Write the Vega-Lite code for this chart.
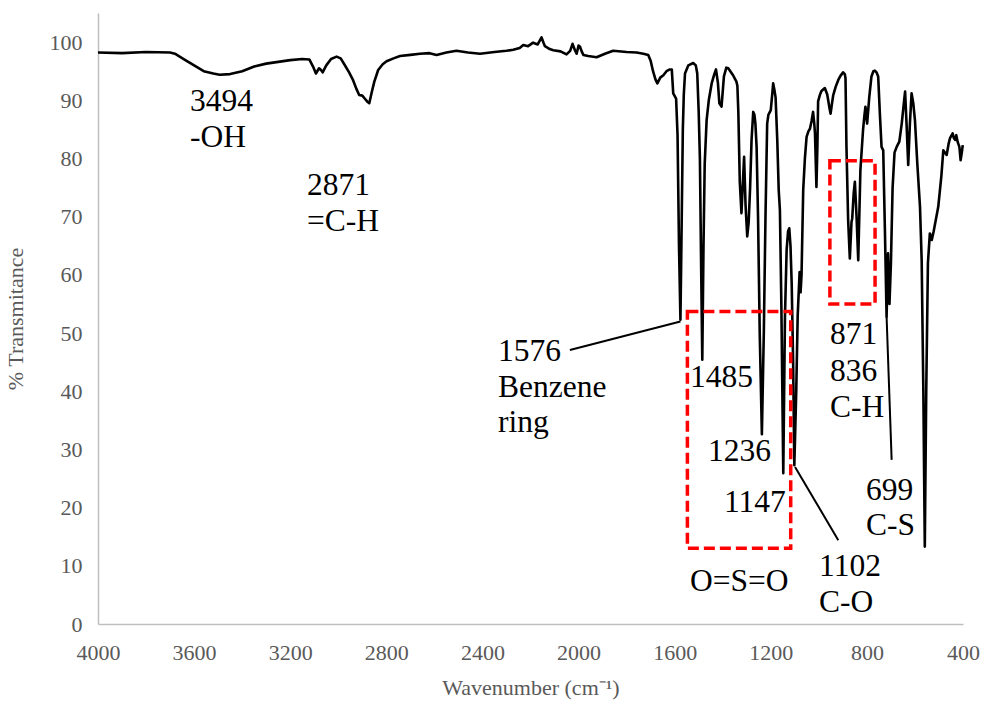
{
  "$schema": "https://vega.github.io/schema/vega-lite/v6.json",
  "width": 865,
  "height": 611,
  "autosize": {"type": "none"},
  "padding": {"left": 98, "top": 13, "right": 21, "bottom": 77},
  "background": "white",
  "config": {"view": {"stroke": null}},
  "datasets": {
    "spectrum": [
      {"wn":4000,"t":98.2},{"wn":3900,"t":98.1},{"wn":3800,"t":98.3},{"wn":3700,"t":98.2},{"wn":3680,"t":98.0},
      {"wn":3640,"t":97.0},{"wn":3600,"t":96.0},{"wn":3560,"t":95.0},{"wn":3520,"t":94.6},{"wn":3494,"t":94.4},
      {"wn":3450,"t":94.5},{"wn":3400,"t":95.0},{"wn":3350,"t":95.8},{"wn":3300,"t":96.3},{"wn":3250,"t":96.6},
      {"wn":3200,"t":96.9},{"wn":3150,"t":97.1},{"wn":3120,"t":97.0},{"wn":3105,"t":95.8},{"wn":3093,"t":94.6},
      {"wn":3080,"t":95.5},{"wn":3072,"t":95.2},{"wn":3065,"t":94.8},{"wn":3050,"t":96.0},{"wn":3030,"t":97.1},
      {"wn":3007,"t":97.5},{"wn":2990,"t":97.2},{"wn":2975,"t":96.2},{"wn":2955,"t":94.8},{"wn":2940,"t":93.6},
      {"wn":2925,"t":92.0},{"wn":2913,"t":90.9},{"wn":2900,"t":90.8},{"wn":2890,"t":90.3},{"wn":2880,"t":89.8},
      {"wn":2871,"t":89.5},{"wn":2860,"t":91.5},{"wn":2850,"t":93.2},{"wn":2834,"t":95.2},{"wn":2815,"t":96.2},
      {"wn":2799,"t":96.7},{"wn":2770,"t":97.2},{"wn":2743,"t":97.6},{"wn":2700,"t":97.8},{"wn":2660,"t":98.0},
      {"wn":2620,"t":98.1},{"wn":2591,"t":97.8},{"wn":2550,"t":98.2},{"wn":2508,"t":98.5},{"wn":2460,"t":98.2},
      {"wn":2410,"t":98.0},{"wn":2350,"t":98.3},{"wn":2300,"t":98.5},{"wn":2272,"t":98.7},{"wn":2245,"t":99.0},
      {"wn":2230,"t":99.5},{"wn":2210,"t":99.3},{"wn":2189,"t":99.9},{"wn":2170,"t":99.6},{"wn":2154,"t":100.8},
      {"wn":2145,"t":99.8},{"wn":2140,"t":99.3},{"wn":2120,"t":98.8},{"wn":2105,"t":98.6},{"wn":2075,"t":98.4},
      {"wn":2050,"t":97.9},{"wn":2035,"t":98.5},{"wn":2025,"t":99.7},{"wn":2015,"t":98.6},{"wn":2008,"t":98.0},
      {"wn":2000,"t":99.4},{"wn":1994,"t":99.2},{"wn":1987,"t":98.4},{"wn":1980,"t":97.8},{"wn":1960,"t":97.6},
      {"wn":1925,"t":97.4},{"wn":1890,"t":98.0},{"wn":1856,"t":98.5},{"wn":1800,"t":98.3},{"wn":1759,"t":98.2},
      {"wn":1730,"t":98.0},{"wn":1710,"t":97.8},{"wn":1700,"t":96.8},{"wn":1690,"t":95.0},{"wn":1680,"t":93.6},
      {"wn":1672,"t":92.9},{"wn":1660,"t":93.9},{"wn":1647,"t":94.3},{"wn":1634,"t":95.0},{"wn":1620,"t":95.3},
      {"wn":1612,"t":95.3},{"wn":1606,"t":91.2},{"wn":1594,"t":90.3},{"wn":1588,"t":84},{"wn":1582,"t":65},
      {"wn":1576,"t":52.3},{"wn":1572,"t":65},{"wn":1566,"t":85},{"wn":1562,"t":91},{"wn":1557,"t":94.6},
      {"wn":1543,"t":96.0},{"wn":1523,"t":96.4},{"wn":1512,"t":96.0},{"wn":1506,"t":94.6},{"wn":1500,"t":88},
      {"wn":1495,"t":80},{"wn":1490,"t":62},{"wn":1485,"t":45.4},{"wn":1480,"t":65},{"wn":1475,"t":79},
      {"wn":1467,"t":86.6},{"wn":1458,"t":90},{"wn":1446,"t":92.9},{"wn":1435,"t":94.5},{"wn":1428,"t":95.3},
      {"wn":1420,"t":93},{"wn":1414,"t":89.5},{"wn":1405,"t":88.9},{"wn":1399,"t":92},{"wn":1395,"t":94.1},
      {"wn":1385,"t":95.6},{"wn":1377,"t":95.5},{"wn":1357,"t":94.3},{"wn":1343,"t":93.2},{"wn":1339,"t":92.5},
      {"wn":1335,"t":88},{"wn":1329,"t":76},{"wn":1322,"t":70.6},{"wn":1316,"t":76},{"wn":1311,"t":80.3},
      {"wn":1305,"t":72},{"wn":1298,"t":66.6},{"wn":1292,"t":69},{"wn":1286,"t":75},{"wn":1280,"t":83.2},
      {"wn":1273,"t":88},{"wn":1268,"t":87.5},{"wn":1264,"t":86},{"wn":1259,"t":82},{"wn":1253,"t":70},
      {"wn":1246,"t":50},{"wn":1237,"t":32.6},{"wn":1229,"t":50},{"wn":1222,"t":70},{"wn":1215,"t":86},
      {"wn":1210,"t":87.5},{"wn":1200,"t":88.3},{"wn":1193,"t":91.5},{"wn":1190,"t":92.9},{"wn":1185,"t":91.8},
      {"wn":1180,"t":90.5},{"wn":1173,"t":83.2},{"wn":1167,"t":74.6},{"wn":1162,"t":71.1},{"wn":1156,"t":55},
      {"wn":1148,"t":25.9},{"wn":1141,"t":52.8},{"wn":1134,"t":64.3},{"wn":1128,"t":67.5},{"wn":1123,"t":68.0},
      {"wn":1118,"t":65},{"wn":1113,"t":58.6},{"wn":1107,"t":45},{"wn":1102,"t":27.3},{"wn":1094,"t":40},
      {"wn":1088,"t":53},{"wn":1080,"t":60.5},{"wn":1076,"t":57},{"wn":1072,"t":60},{"wn":1065,"t":74.6},
      {"wn":1058,"t":80},{"wn":1051,"t":83.7},{"wn":1043,"t":84.7},{"wn":1037,"t":85.1},{"wn":1030,"t":86.5},
      {"wn":1024,"t":88.0},{"wn":1019,"t":86},{"wn":1016,"t":84.3},{"wn":1010,"t":75.1},{"wn":1006,"t":82},
      {"wn":1003,"t":89.8},{"wn":995,"t":91},{"wn":989,"t":91.6},{"wn":975,"t":92.1},{"wn":965,"t":91.0},
      {"wn":961,"t":90.0},{"wn":955,"t":88.5},{"wn":951,"t":87.7},{"wn":945,"t":89.5},{"wn":940,"t":90.9},
      {"wn":930,"t":92.3},{"wn":919,"t":93.5},{"wn":910,"t":94.2},{"wn":899,"t":94.8},{"wn":892,"t":94.5},
      {"wn":889,"t":93.8},{"wn":885,"t":82.0},{"wn":878,"t":69.4},{"wn":871,"t":62.8},{"wn":864,"t":69.1},
      {"wn":861,"t":69.7},{"wn":855,"t":74},{"wn":850,"t":76.0},{"wn":843,"t":70.0},{"wn":836,"t":62.5},
      {"wn":827,"t":78.0},{"wn":816,"t":84.9},{"wn":810,"t":87.5},{"wn":806,"t":88.9},{"wn":799,"t":86.0},
      {"wn":790,"t":90.6},{"wn":781,"t":94.1},{"wn":773,"t":95.0},{"wn":767,"t":95.1},{"wn":760,"t":94.8},
      {"wn":753,"t":94.1},{"wn":746,"t":87.7},{"wn":739,"t":82.0},{"wn":732,"t":81.4},{"wn":725,"t":67.7},
      {"wn":718,"t":52.8},{"wn":712,"t":63.7},{"wn":706,"t":55},{"wn":700,"t":62},{"wn":693,"t":75},
      {"wn":685,"t":81},{"wn":676,"t":82.0},{"wn":665,"t":82.9},{"wn":655,"t":86.0},{"wn":645,"t":90},
      {"wn":641,"t":91.5},{"wn":635,"t":86},{"wn":628,"t":78.9},{"wn":621,"t":86},{"wn":614,"t":91.2},
      {"wn":607,"t":89.5},{"wn":600,"t":86.6},{"wn":590,"t":79},{"wn":579,"t":71.7},{"wn":572,"t":62.5},
      {"wn":565,"t":40},{"wn":559,"t":13.3},{"wn":553,"t":40},{"wn":546,"t":62},{"wn":538,"t":67.1},
      {"wn":533,"t":66.5},{"wn":530,"t":66.0},{"wn":522,"t":67.5},{"wn":503,"t":71.7},{"wn":490,"t":77},
      {"wn":482,"t":81.4},{"wn":475,"t":81},{"wn":468,"t":80.6},{"wn":460,"t":82.5},{"wn":454,"t":83.5},
      {"wn":443,"t":84.3},{"wn":438,"t":83.5},{"wn":433,"t":83.2},{"wn":428,"t":84},{"wn":422,"t":82.8},
      {"wn":415,"t":82.0},{"wn":410,"t":79.7},{"wn":405,"t":81},{"wn":401,"t":82.3}
    ],
    "leaders": [
      {"x1":2036,"y1":47.1,"x2":1576,"y2":52.0},
      {"x1":1099,"y1":27.0,"x2":919,"y2":14.4},
      {"x1":718,"y1":52.8,"x2":697,"y2":28.2}
    ],
    "boxes": [
      {"x1":1547,"x2":1117,"y1":53.7,"y2":13.0},
      {"x1":954,"x2":766,"y1":79.6,"y2":55.0}
    ],
    "labels": [
      {"x":3617,"y":88.1,"txt":"3494"},{"x":3617,"y":82.0,"txt":"-OH"},
      {"x":3130,"y":73.7,"txt":"2871"},{"x":3130,"y":67.5,"txt":"=C-H"},
      {"x":2335,"y":45.2,"txt":"1576"},{"x":2335,"y":39.0,"txt":"Benzene"},{"x":2335,"y":33.0,"txt":"ring"},
      {"x":1536,"y":40.7,"txt":"1485"},
      {"x":1461,"y":28.0,"txt":"1236"},
      {"x":1395,"y":19.2,"txt":"1147"},
      {"x":1536,"y":5.7,"txt":"O=S=O"},
      {"x":999,"y":8.2,"txt":"1102"},{"x":999,"y":2.1,"txt":"C-O"},
      {"x":954,"y":48.1,"txt":"871"},{"x":954,"y":41.8,"txt":"836"},{"x":954,"y":35.6,"txt":"C-H"},
      {"x":804,"y":21.3,"txt":"699"},{"x":804,"y":15.3,"txt":"C-S"}
    ]
  },
  "layer": [
    {
      "data": {"name": "spectrum"},
      "mark": {"type": "line", "color": "black", "strokeWidth": 2.6, "strokeJoin": "round"},
      "encoding": {
        "x": {
          "field": "wn", "type": "quantitative",
          "scale": {"domain": [400, 4000], "reverse": true, "nice": false, "zero": false},
          "axis": {
            "values": [4000, 3600, 3200, 2800, 2400, 2000, 1600, 1200, 800, 400],
            "format": "d",
            "title": "Wavenumber (cm⁻¹)",
            "titleFont": "Liberation Serif", "titleFontSize": 22, "titleFontWeight": "normal", "titleColor": "#595959",
            "titlePadding": 14,
            "labelFont": "Liberation Serif", "labelFontSize": 22, "labelColor": "#595959", "labelPadding": 18,
            "labelFlush": false, "labelBound": false,
            "ticks": false, "grid": false, "domainColor": "#bfbfbf", "domainWidth": 1.5,
            "labelOverlap": false
          }
        },
        "y": {
          "field": "t", "type": "quantitative",
          "scale": {"domain": [0, 105], "nice": false},
          "axis": {
            "values": [0, 10, 20, 30, 40, 50, 60, 70, 80, 90, 100],
            "title": "% Transmitance",
            "titleFont": "Liberation Serif", "titleFontSize": 22, "titleFontWeight": "normal", "titleColor": "#595959",
            "titlePadding": 22,
            "labelFont": "Liberation Serif", "labelFontSize": 22, "labelColor": "#595959", "labelPadding": 16,
            "labelFlush": false,
            "ticks": false, "grid": false, "domainColor": "#bfbfbf", "domainWidth": 1.5
          }
        }
      }
    },
    {
      "data": {"name": "leaders"},
      "mark": {"type": "rule", "color": "black", "strokeWidth": 2},
      "encoding": {
        "x": {"field": "x1", "type": "quantitative"},
        "x2": {"field": "x2"},
        "y": {"field": "y1", "type": "quantitative"},
        "y2": {"field": "y2"}
      }
    },
    {
      "data": {"name": "boxes"},
      "mark": {"type": "rect", "fill": null, "fillOpacity": 0, "stroke": "#ff0000", "strokeWidth": 3.5, "strokeDash": [11, 5]},
      "encoding": {
        "x": {"field": "x1", "type": "quantitative"},
        "x2": {"field": "x2"},
        "y": {"field": "y1", "type": "quantitative"},
        "y2": {"field": "y2"}
      }
    },
    {
      "data": {"name": "labels"},
      "mark": {"type": "text", "font": "Liberation Serif", "fontSize": 31.5, "align": "left", "baseline": "alphabetic", "color": "black"},
      "encoding": {
        "x": {"field": "x", "type": "quantitative"},
        "y": {"field": "y", "type": "quantitative"},
        "text": {"field": "txt"}
      }
    }
  ]
}
